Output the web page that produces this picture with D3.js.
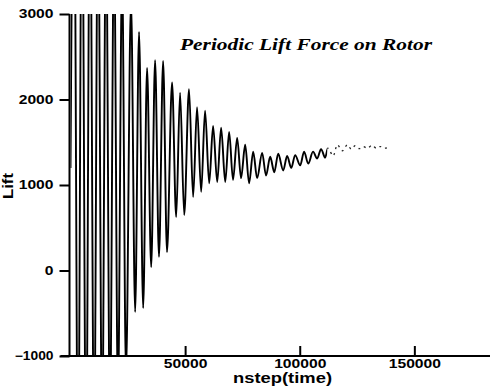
<!DOCTYPE html>
<html>
<head>
<meta charset="utf-8">
<script src="https://cdn.jsdelivr.net/npm/d3@7/dist/d3.min.js"></script>
<style>
  html, body { margin: 0; padding: 0; background: #fff; }
  svg { display: block; }
</style>
</head>
<body>
<script>
// Lift history: initial value, then the crest and trough of every cycle
const startStep = 0;
const startLift = 1200;

const peakSteps = [1500, 5000, 8500, 12000, 15500, 19000, 22500, 26400, 29900, 33400,
  36900, 40400, 44300, 47800, 51700, 55200, 58700, 62200, 65700, 69200,
  72700, 76200, 79700, 83600, 87100, 90600, 94500, 98000, 101900, 105800,
  109300, 112300, 116400, 120800, 124200, 127700, 131600, 135100, 138600];
const peakLift = [5200, 5000, 4800, 4500, 4200, 3900, 3500, 3150, 2790, 2370,
  2460, 2450, 2200, 2080, 2120, 1910, 1870, 1690, 1670, 1620,
  1550, 1470, 1390, 1375, 1330, 1365, 1340, 1350, 1390, 1390,
  1420, 1430, 1470, 1470, 1460, 1450, 1465, 1450, 1440];

const troughSteps = [3300, 6800, 10300, 13800, 17200, 20700, 24200, 28200, 31700, 35200,
  38600, 42100, 46100, 49600, 53500, 57000, 60500, 64000, 67500, 70900,
  74400, 77900, 81400, 85300, 88900, 92800, 96300, 100200, 103700, 107600,
  111100, 114600, 118600, 122500, 126000, 129500, 133400, 136900];
const troughLift = [-2600, -2400, -2200, -2000, -1800, -1500, -1200, -485, -440, 40,
  160, 215, 625, 650, 860, 920, 1020, 1035, 1035, 1060,
  1080, 1020, 1080, 1110, 1150, 1170, 1200, 1230, 1250, 1310,
  1320, 1340, 1400, 1420, 1425, 1430, 1430, 1430];

const xTicks = [50000, 100000, 150000];
const yTicks = [-1000, 0, 1000, 2000, 3000];

const titleText = "Periodic Lift Force on Rotor";
const xLabel = "nstep(time)";
const yLabel = "Lift";

// merge the crests and troughs into one time-ordered series
const series = [{step: startStep, lift: startLift}]
  .concat(peakSteps.map((s, i) => ({step: s, lift: peakLift[i]})))
  .concat(troughSteps.map((s, i) => ({step: s, lift: troughLift[i]})))
  .sort((a, b) => a.step - b.step);

const W = 490, H = 390;
const xMax = 183000;
const tailStart = 112000;   // from here the printed trace is faint and broken
const x = d3.scaleLinear().domain([0, xMax]).range([70.5, 490]);
const y = d3.scaleLinear().domain([-1000, 3000]).range([356, 14]);

const svg = d3.select("body").append("svg")
  .attr("width", W).attr("height", H);

const defs = svg.append("defs");
defs.append("clipPath").attr("id", "clip-main")
  .append("rect")
  .attr("x", x(0)).attr("y", y(3000))
  .attr("width", x(tailStart) - x(0)).attr("height", y(-1000) - y(3000));
defs.append("clipPath").attr("id", "clip-tail")
  .append("rect")
  .attr("x", x(tailStart)).attr("y", y(3000))
  .attr("width", x(xMax) - x(tailStart)).attr("height", y(-1000) - y(3000));

const tickFont = "'Liberation Sans', Arial, sans-serif";

// the lift trace
const line = d3.line()
  .x(d => x(d.step))
  .y(d => y(d.lift))
  .curve(d3.curveMonotoneX);

svg.append("path")
  .datum(series)
  .attr("clip-path", "url(#clip-main)")
  .attr("fill", "none")
  .attr("stroke", "#000")
  .attr("stroke-width", 1.9)
  .attr("d", line);

svg.append("path")
  .datum(series)
  .attr("clip-path", "url(#clip-tail)")
  .attr("fill", "none")
  .attr("stroke", "#222")
  .attr("stroke-width", 1.3)
  .attr("stroke-dasharray", "2,4")
  .attr("d", line);

// y axis: outward ticks on the left
const yAxis = svg.append("g")
  .attr("transform", `translate(${x(0) - 1},0)`)
  .call(d3.axisLeft(y).tickValues(yTicks).tickFormat(d3.format("d"))
    .tickSize(10).tickPadding(6));

// x axis: ticks pointing up into the plot
const xAxis = svg.append("g")
  .attr("transform", `translate(0,${y(-1000)})`)
  .call(d3.axisBottom(x).tickValues(xTicks).tickFormat(d3.format("d"))
    .tickSizeInner(-10).tickSizeOuter(0).tickPadding(3));

[xAxis, yAxis].forEach(g => {
  g.selectAll(".domain").attr("stroke", "#000").attr("stroke-width", 2);
  g.selectAll(".tick line").attr("stroke", "#000").attr("stroke-width", 2);
  g.selectAll(".tick text")
    .attr("fill", "#000")
    .style("font-family", tickFont)
    .style("font-weight", "bold")
    .style("font-size", "12px")
    .attr("lengthAdjust", "spacingAndGlyphs")
    .attr("textLength", d => {
      const s = String(d);
      return s.replace("-", "").length * 8.7 + (s.startsWith("-") ? 4 : 0);
    });
});
yAxis.select(".domain").attr("d", `M0,${y(3000)}V${y(-1000)}`);
xAxis.select(".domain").attr("d", `M${x(0) - 10},0H${W}`);

// title
svg.append("text")
  .attr("x", 180).attr("y", 50)
  .style("font-family", "'Liberation Serif', 'Times New Roman', serif")
  .style("font-style", "italic")
  .style("font-weight", "bold")
  .style("font-size", "17px")
  .attr("textLength", 252)
  .attr("lengthAdjust", "spacingAndGlyphs")
  .text(titleText);

// axis titles
svg.append("text")
  .attr("x", 233).attr("y", 383)
  .style("font-family", tickFont)
  .style("font-weight", "bold")
  .style("font-size", "15px")
  .attr("textLength", 99)
  .attr("lengthAdjust", "spacingAndGlyphs")
  .text(xLabel);

svg.append("text")
  .attr("transform", "translate(13,186) rotate(-90)")
  .attr("text-anchor", "middle")
  .style("font-family", tickFont)
  .style("font-weight", "bold")
  .style("font-size", "15px")
  .attr("textLength", 26)
  .attr("lengthAdjust", "spacingAndGlyphs")
  .text(yLabel);
</script>
</body>
</html>
